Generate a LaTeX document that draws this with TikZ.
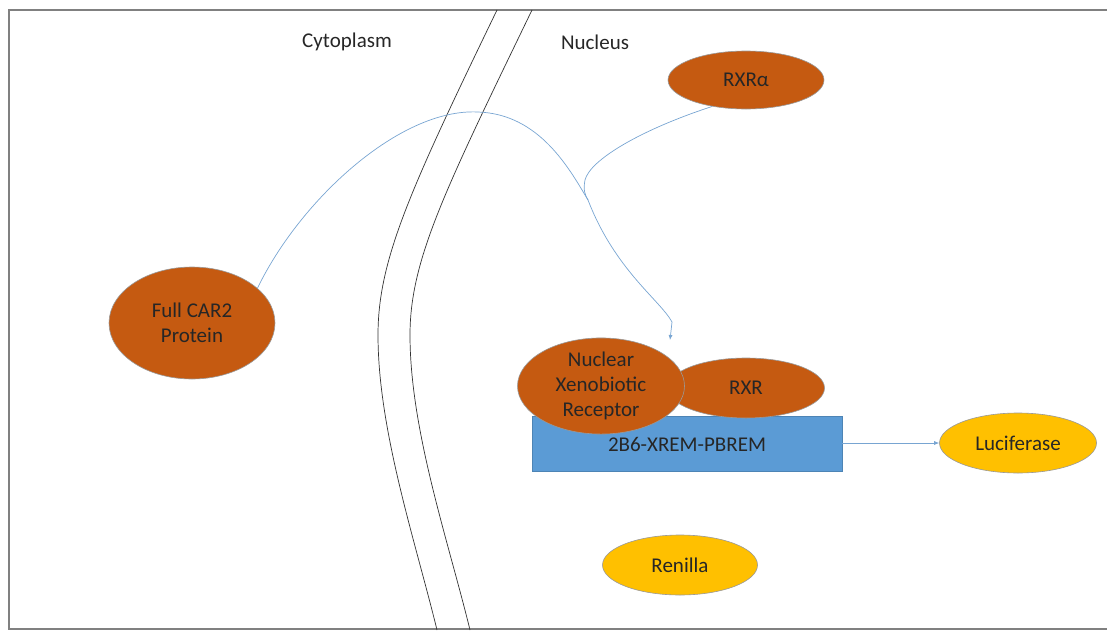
\documentclass[tikz,border=0pt]{standalone}
\usepackage{fontspec}
\setmainfont{Carlito}
\usetikzlibrary{arrows.meta,shapes.geometric}

\begin{document}
\begin{tikzpicture}[x=1pt,y=-1pt,
  blob/.style={ellipse, draw=black!40, line width=.6pt, inner sep=0pt, align=center,
    font=\fontsize{21}{25}\selectfont, text=black!85},
  protein/.style={blob, fill=brn},
  reporter/.style={blob, fill=ylw},
  link/.style={draw=lnk, line width=.7pt},
  membrane/.style={draw=black!80, line width=.7pt},
  tag/.style={font=\fontsize{21}{25}\selectfont, text=black!85}]
\definecolor{brn}{RGB}{197,90,17}
\definecolor{ylw}{RGB}{255,192,0}
\definecolor{blk}{RGB}{91,155,213}
\definecolor{lnk}{RGB}{120,165,210}
\useasboundingbox (0,0) rectangle (1107,632);
%% --- frame (open on the right) ---
\draw[black!50, line width=1.6pt] (1107,10) -- (9,10) -- (9,629) -- (1107,629);
%% --- nuclear envelope ---
\draw[membrane] (497,10) .. controls (410,190) and (378,260) .. (378,335)
  .. controls (378,430) and (415,540) .. (437,630);
\draw[membrane] (532,10) .. controls (445,190) and (410,260) .. (410,335)
  .. controls (410,430) and (448,540) .. (470,630);
\node[tag] (cyto) at (347,42) {Cytoplasm};
\node[tag] (nuc) at (595,42) {Nucleus};
%% --- proteins ---
\node[protein, minimum width=166pt, minimum height=112pt] (car) at (192,323) {Full CAR2\\Protein};
\node[protein, minimum width=156pt, minimum height=58pt] (rxra) at (746,80) {RXRα};
%% --- promoter complex ---
\node[draw=blk!85!black, line width=.4pt, fill=blk, minimum width=310pt, minimum height=55pt,
  inner sep=0pt, font=\fontsize{21}{25}\selectfont, text=black!85] (elem) at (687,444) {2B6-XREM-PBREM};
\node[protein, minimum width=157pt, minimum height=60pt] (rxr) at (746,388) {RXR};
\node[protein, minimum width=167pt, minimum height=86pt] (nxr) at (601,386) {Nuclear\\Xenobiotic\\Receptor};
%% --- reporters ---
\node[reporter, minimum width=157pt, minimum height=60pt] (luc) at (1018,443) {Luciferase};
\node[reporter, minimum width=155pt, minimum height=60pt] (ren) at (680,565) {Renilla};
%% --- connectors ---
\coordinate (bend) at (672,322);
\coordinate (tip) at (670,340);
\coordinate (merge) at (588,200);
\draw[link] (car.28) .. controls (300,200) and (400,108) .. (478,112)
  .. controls (540,114) and (570,170) .. (merge)
  .. controls (615,270) and (660,300) .. (bend);
\draw[link, -{Latex[length=5pt,width=4pt]}] (bend) -- (tip);
\draw[link] (rxra.218) .. controls (640,130) and (590,160) .. (585,180)
  .. controls (583,190) and (585,195) .. (merge);
\draw[link, -{Latex[length=5pt,width=4pt]}] (elem.east |- luc.west) -- (luc.west);
\end{tikzpicture}
\end{document}
